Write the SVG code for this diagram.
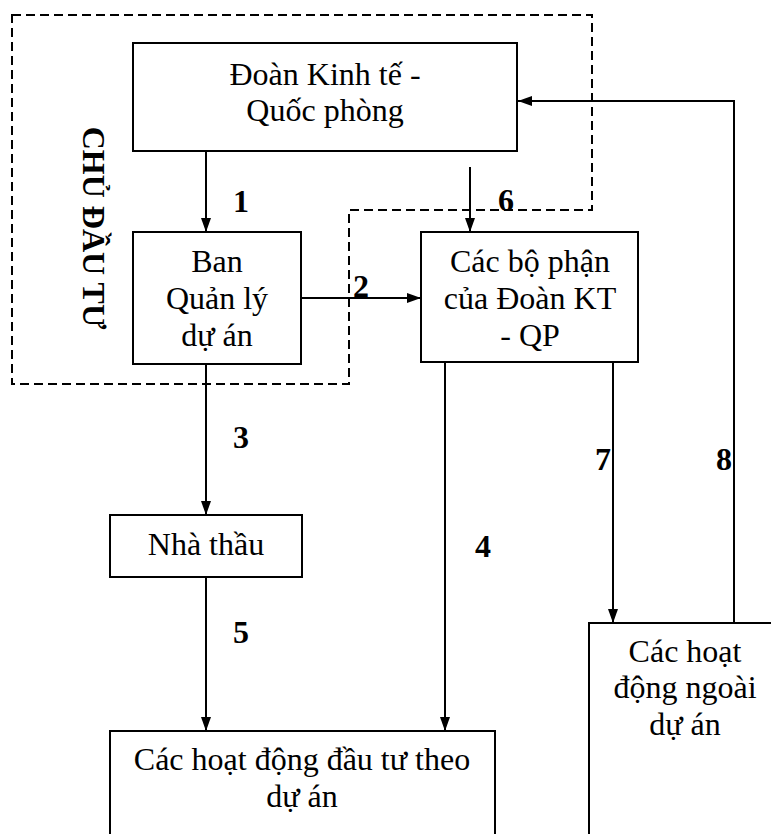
<svg xmlns="http://www.w3.org/2000/svg" width="771" height="834" viewBox="0 0 771 834">
<defs>
<marker id="ah" markerUnits="userSpaceOnUse" markerWidth="14" markerHeight="10" refX="14" refY="5" orient="auto">
<path d="M0,0 L14,5 L0,10 z" fill="#000"/>
</marker>
<style>
.box{fill:#fff;stroke:#000;stroke-width:2}
.t{font-family:"Liberation Serif","Times New Roman",serif;font-size:32px;text-anchor:middle;fill:#000}
.n{font-family:"Liberation Serif","Times New Roman",serif;font-size:32px;font-weight:bold;text-anchor:middle;fill:#000}
.c{fill:none;stroke:#000;stroke-width:2}
.dash{fill:none;stroke:#000;stroke-width:2;stroke-dasharray:9,5}
</style>
</defs>
<rect width="771" height="834" fill="#fff"/>
<g id="chu-dau-tu">
<path class="dash" d="M12,15 H592 V210 H349 V384 H12 Z"/>
<text class="n" transform="translate(83,228) rotate(90)">CHỦ ĐẦU TƯ</text>
</g>
<g id="doan">
<rect class="box" x="133" y="43" width="384" height="108"/>
<text class="t" x="325" y="85">Đoàn Kinh tế -</text>
<text class="t" x="325" y="121">Quốc phòng</text>
</g>
<g id="ban">
<rect class="box" x="133" y="232" width="168" height="132"/>
<text class="t" x="217" y="272">Ban</text>
<text class="t" x="217" y="309">Quản lý</text>
<text class="t" x="217" y="346">dự án</text>
</g>
<g id="bophan">
<rect class="box" x="421" y="232" width="217" height="130"/>
<text class="t" x="530" y="272">Các bộ phận</text>
<text class="t" x="530" y="309">của Đoàn KT</text>
<text class="t" x="530" y="346">- QP</text>
</g>
<g id="nhathau">
<rect class="box" x="110" y="515" width="192" height="62"/>
<text class="t" x="206" y="555">Nhà thầu</text>
</g>
<g id="hoatdong-duan">
<rect class="box" x="110" y="731" width="385" height="120"/>
<text class="t" x="302" y="770">Các hoạt động đầu tư theo</text>
<text class="t" x="302" y="807">dự án</text>
</g>
<g id="hoatdong-ngoai">
<rect class="box" x="589" y="623" width="200" height="230"/>
<text class="t" x="685" y="662">Các hoạt</text>
<text class="t" x="685" y="698">động ngoài</text>
<text class="t" x="685" y="735">dự án</text>
</g>
<g id="connectors">
<line class="c" x1="206" y1="151" x2="206" y2="232" marker-end="url(#ah)"/>
<line class="c" x1="301" y1="298" x2="421" y2="298" marker-end="url(#ah)"/>
<line class="c" x1="206" y1="364" x2="206" y2="515" marker-end="url(#ah)"/>
<line class="c" x1="445" y1="362" x2="445" y2="731" marker-end="url(#ah)"/>
<line class="c" x1="206" y1="577" x2="206" y2="731" marker-end="url(#ah)"/>
<line class="c" x1="470" y1="167" x2="470" y2="232" marker-end="url(#ah)"/>
<line class="c" x1="613" y1="362" x2="613" y2="623" marker-end="url(#ah)"/>
<polyline class="c" points="734,623 734,101 518,101" marker-end="url(#ah)"/>
<text class="n" x="241" y="212">1</text>
<text class="n" x="361" y="297">2</text>
<text class="n" x="241" y="448">3</text>
<text class="n" x="483" y="557">4</text>
<text class="n" x="241" y="643">5</text>
<text class="n" x="506" y="211">6</text>
<text class="n" x="603" y="470">7</text>
<text class="n" x="724" y="470">8</text>
</g>
</svg>
